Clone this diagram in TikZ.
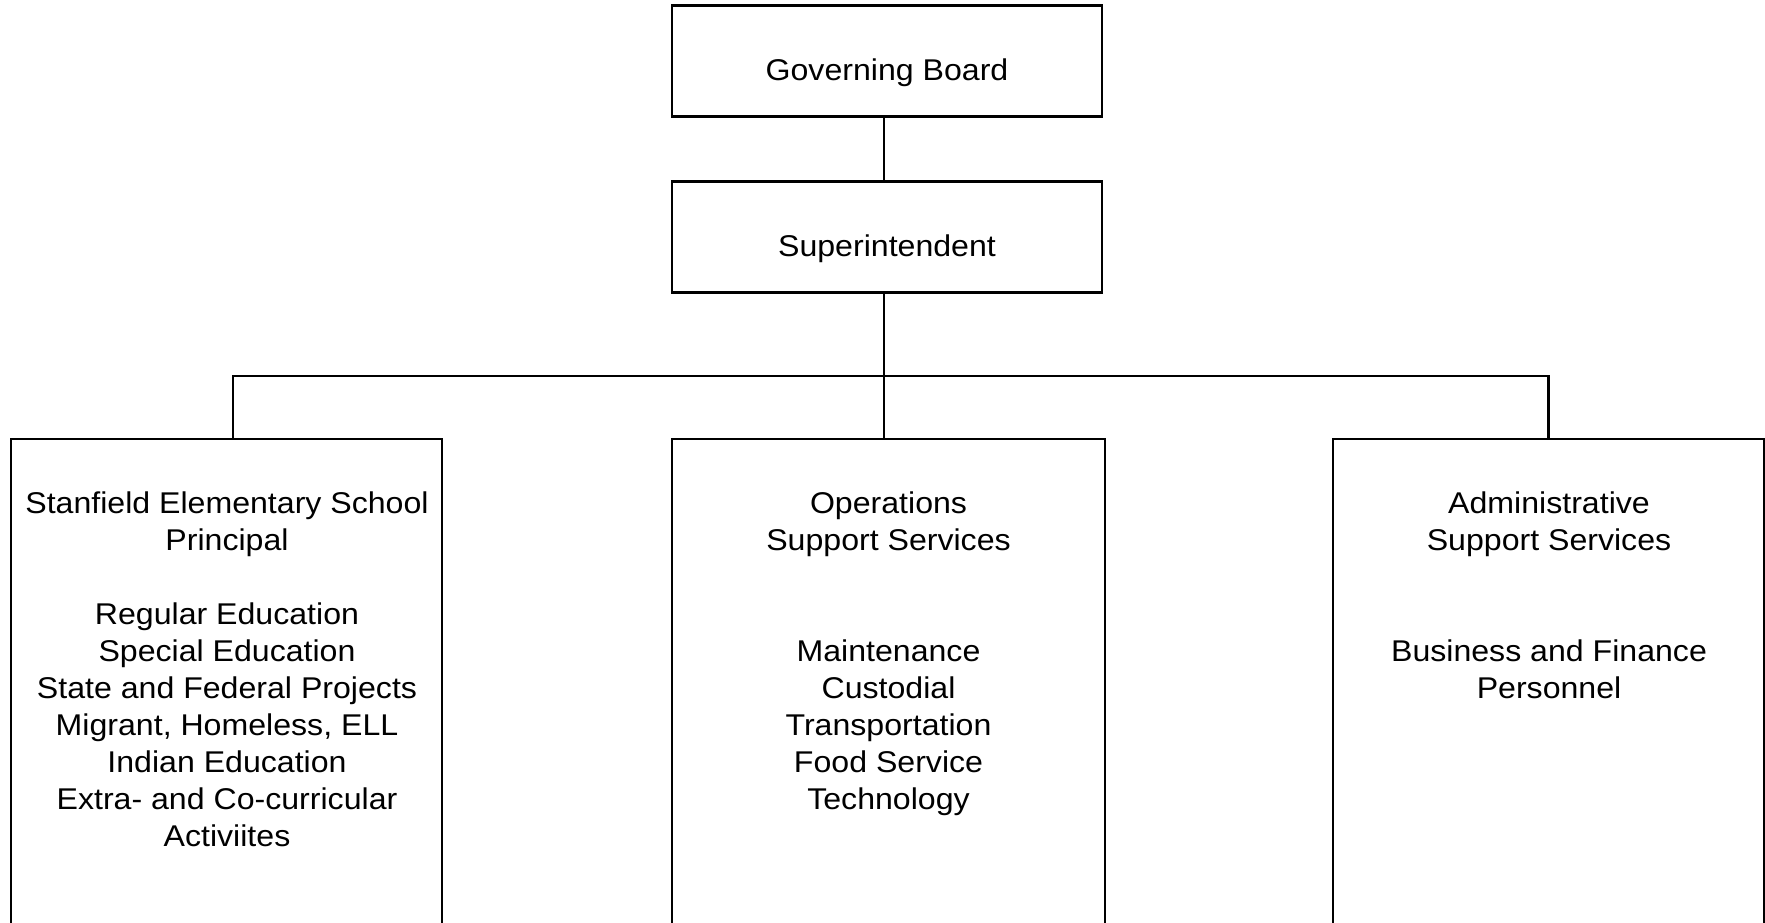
\documentclass[tikz,border=0pt]{standalone}
\usepackage{fontspec}
\setmainfont{Liberation Sans}[FakeStretch=1.07]
\usepackage{tikz}

\begin{document}
\begin{tikzpicture}[x=0.5pt, y=-0.5pt, line width=1.1pt,
    topbox/.style={draw, minimum width=215pt, minimum height=55.5pt,
        text height=22pt, text depth=3pt, font=\fontsize{15pt}{18.5pt}\selectfont},
    unitbox/.style={draw, anchor=north, outer sep=0pt, minimum width=215.5pt, minimum height=246pt},
    unittext/.style={anchor=north, inner sep=0pt, align=center,
        font=\fontsize{15pt}{18.5pt}\selectfont}]

        % Page frame
        \useasboundingbox (0,0) rectangle (1765,922);

        % Top of the chart
        \node[topbox] (board) at (887,61) {Governing Board};
        \node[topbox] (super) at (887,237) {Superintendent};

        % The three units
        \node[unitbox] (school) at (226.5,439) {};
        \node[unitbox, minimum width=216.5pt] (ops) at (888.5,439) {};
        \node[unitbox] (admin) at (1548.5,439) {};

        \node[unittext] (schooltext) at (227,491) {Stanfield Elementary School\\Principal\\[18.5pt]Regular Education\\Special Education\\State and Federal Projects\\Migrant, Homeless, ELL\\Indian Education\\Extra- and Co-curricular\\Activiites};
        \node[unittext] (opstext) at (888.5,491) {Operations\\Support Services\\[37pt]Maintenance\\Custodial\\Transportation\\Food Service\\Technology};
        \node[unittext] (admintext) at (1549,491) {Administrative\\Support Services\\[37pt]Business and Finance\\Personnel};

        % Connectors
        \coordinate (bus) at (884,376);
        \draw ([xshift=-1.5pt]board.south) -- ([xshift=-1.5pt]super.north);
        \draw (bus |- super.south) -- (bus |- ops.north);
        \draw ([xshift=3.25pt]school.north) |- (bus) -| (admin.north);

    \end{tikzpicture}
\end{document}
